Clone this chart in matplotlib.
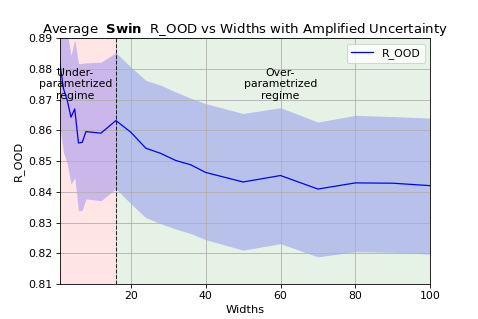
import matplotlib
matplotlib.use("Agg")
import matplotlib.pyplot as plt

# widths of the model and the averaged R_OOD
widths = [1, 2, 3, 4, 5, 6, 7, 8, 12, 16, 20, 24, 28, 32, 36, 40, 50, 60, 70, 80, 90, 100]
r_ood = [0.8822, 0.8736, 0.8698, 0.8643, 0.8670, 0.8559, 0.8561, 0.8596, 0.8591, 0.8632,
         0.8594, 0.8542, 0.8525, 0.8502, 0.8488, 0.8463, 0.8432, 0.8453, 0.8409, 0.8429,
         0.8428, 0.8420]
# amplified uncertainty band
upper = [0.905, 0.898, 0.892, 0.8844, 0.8895, 0.8818, 0.8818, 0.8820, 0.8822, 0.8853,
         0.8806, 0.8763, 0.8747, 0.8725, 0.8705, 0.8687, 0.8655, 0.8674, 0.8627, 0.8649,
         0.8645, 0.8640]
lower = [0.8616, 0.8528, 0.8492, 0.8425, 0.8447, 0.8338, 0.8340, 0.8377, 0.8371, 0.8410,
         0.8361, 0.8316, 0.8296, 0.8279, 0.8264, 0.8244, 0.8210, 0.8231, 0.8188, 0.8205,
         0.8203, 0.8197]
threshold = 16

dpi = 74.7
fig, ax = plt.subplots(figsize=(478 / dpi, 319 / dpi), dpi=dpi)

# regime backgrounds
ax.axvspan(min(widths), threshold, color='red', alpha=0.1)
ax.axvspan(threshold, max(widths), color='green', alpha=0.1)

ax.fill_between(widths, lower, upper, color='blue', alpha=0.2, linewidth=0)
ax.plot(widths, r_ood, color='blue', linewidth=1.2, label='R_OOD')
ax.axvline(threshold, color='black', linestyle='--', linewidth=1, alpha=0.8)

ax.text(5.2, 0.875, 'Under-\nparametrized\nregime', ha='center', va='center', fontsize=10.5)
ax.text(60, 0.875, 'Over-\nparametrized\nregime', ha='center', va='center', fontsize=10.5)

ax.set_xlim(1, 100)
ax.set_ylim(0.81, 0.89)
ax.set_xlabel('Widths', fontsize=11)
ax.set_ylabel('R_OOD', fontsize=11)
ax.tick_params(labelsize=10.5)
ax.set_title(r'Average  $\bf{Swin}$  R_OOD vs Widths with Amplified Uncertainty',
             fontsize=12.8, pad=3)
ax.grid(True)
ax.legend(loc='upper right', fontsize=10.5)

fig.savefig('out.png', dpi=dpi)
